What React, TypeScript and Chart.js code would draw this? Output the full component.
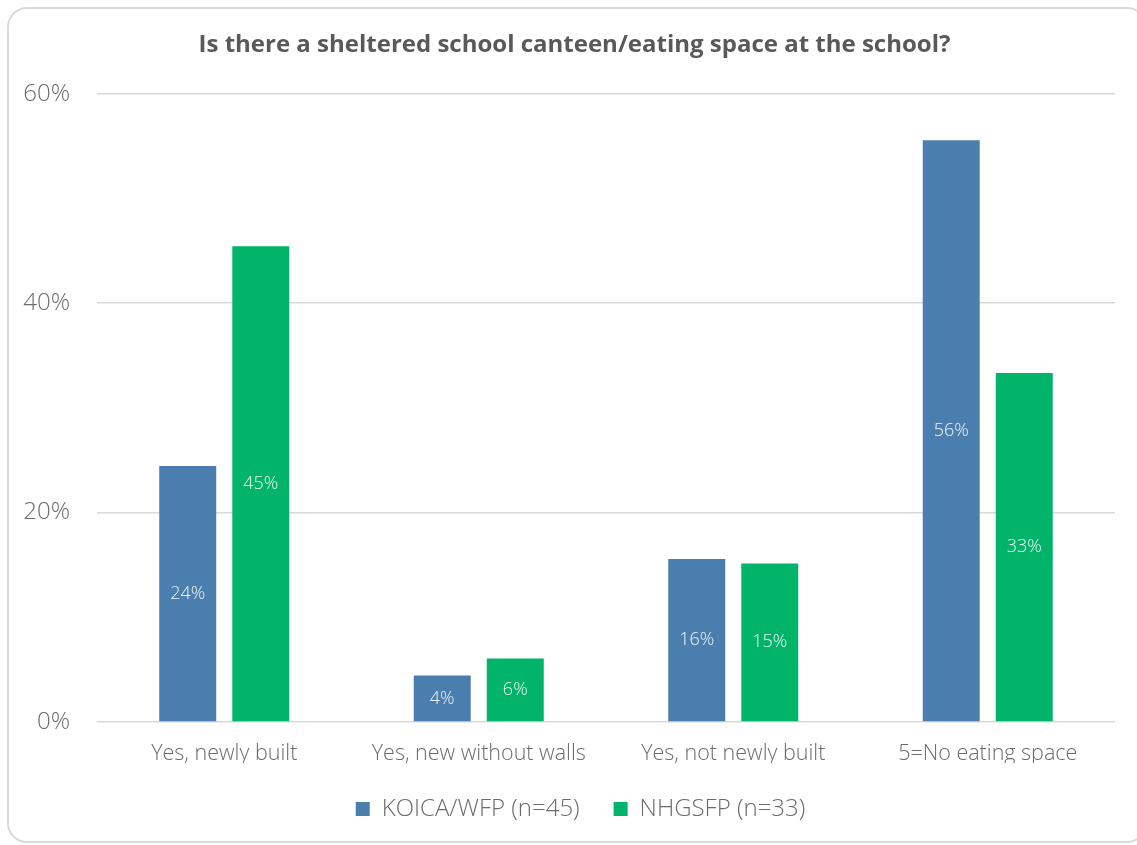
import React, { useEffect, useRef } from "react";
import { Chart, registerables } from "chart.js";

Chart.register(...registerables);

const categories = ["Yes, newly built", "Yes, new without walls", "Yes, not newly built", "5=No eating space"];
const koicaValues = [24.44, 4.44, 15.56, 55.56];
const nhgsfpValues = [45.45, 6.06, 15.15, 33.33];
const seriesNames = ["KOICA/WFP (n=45)", "NHGSFP (n=33)"];
const yTicks = [0, 20, 40, 60];
const titleText = "Is there a sheltered school canteen/eating space at the school?";

const FONT = "'Open Sans', 'DejaVu Sans', sans-serif";

const dataLabelPlugin = {
  id: "dataLabels",
  afterDatasetsDraw(chart: any) {
    const ctx = chart.ctx;
    ctx.save();
    ctx.font = `300 18px ${FONT}`;
    ctx.fillStyle = "rgba(255,255,255,0.92)";
    ctx.textAlign = "center";
    ctx.textBaseline = "middle";
    chart.data.datasets.forEach((ds: any, i: number) => {
      const meta = chart.getDatasetMeta(i);
      meta.data.forEach((bar: any, j: number) => {
        const v = ds.data[j];
        const yMid = (bar.y + bar.base) / 2;
        ctx.fillText(Math.round(v) + "%", bar.x, yMid);
      });
    });
    ctx.restore();
  },
};

// Shift title and legend horizontally so they are centred like the reference
const shiftPlugin = {
  id: "shiftBlocks",
  afterLayout(chart: any) {
    if (chart.titleBlock) {
      chart.titleBlock.left += 17;
      chart.titleBlock.right += 17;
    }
    if (chart.legend) {
      chart.legend.left += 23;
      chart.legend.right += 23;
    }
  },
};

export default function App() {
  const ref = useRef<HTMLCanvasElement>(null);
  useEffect(() => {
    if (!ref.current) return;
    const chart = new Chart(ref.current, {
      type: "bar",
      data: {
        labels: categories,
        datasets: [
          {
            label: seriesNames[0],
            data: koicaValues,
            backgroundColor: "#4a7eae",
            categoryPercentage: 0.574,
            barPercentage: 0.78,
          },
          {
            label: seriesNames[1],
            data: nhgsfpValues,
            backgroundColor: "#02b469",
            categoryPercentage: 0.574,
            barPercentage: 0.78,
          },
        ],
      },
      options: {
        responsive: false,
        animation: false,
        layout: { padding: { top: 28, right: 22, left: 0, bottom: 14 } },
        plugins: {
          title: {
            display: true,
            text: titleText,
            color: "#595959",
            font: { family: FONT, size: 24, weight: "bold" },
            padding: { top: 3, bottom: 34 },
          },
          legend: {
            position: "bottom",
            labels: {
              boxWidth: 14,
              boxHeight: 14,
              color: "#6b6b6b",
              padding: 34,
              font: { family: FONT, size: 24, weight: "300" },
            },
          },
          tooltip: { enabled: false },
        },
        scales: {
          x: {
            grid: { display: false, drawTicks: false },
            border: { display: false },
            ticks: {
              color: "#6b6b6b",
              padding: 19,
              font: { family: FONT, size: 21.5, weight: "300" },
            },
            afterFit: (s: any) => {
              s.height = 41;
            },
          },
          y: {
            min: 0,
            max: 60,
            afterBuildTicks: (s: any) => {
              s.ticks = yTicks.map((v) => ({ value: v }));
            },
            grid: { color: "#d9d9d9", lineWidth: 1.5, drawTicks: false },
            border: { display: false },
            ticks: {
              color: "#6b6b6b",
              padding: 27,
              font: { family: FONT, size: 24, weight: "300" },
              callback: (v: any) => v + "%",
            },
            afterFit: (s: any) => {
              s.width = 97;
            },
          },
        },
      },
      plugins: [dataLabelPlugin, shiftPlugin],
    });
    return () => chart.destroy();
  }, []);
  return (
    <div>
      <div
        style={{
          position: "fixed",
          left: 7,
          top: 7,
          width: 1140,
          height: 836,
          boxSizing: "border-box",
          border: "2px solid #dadada",
          borderRadius: 20,
        }}
      />
      <canvas
        ref={ref}
        width={1137}
        height={845}
        style={{ position: "fixed", left: 0, top: 0, width: 1137, height: 845 }}
      />
    </div>
  );
}
